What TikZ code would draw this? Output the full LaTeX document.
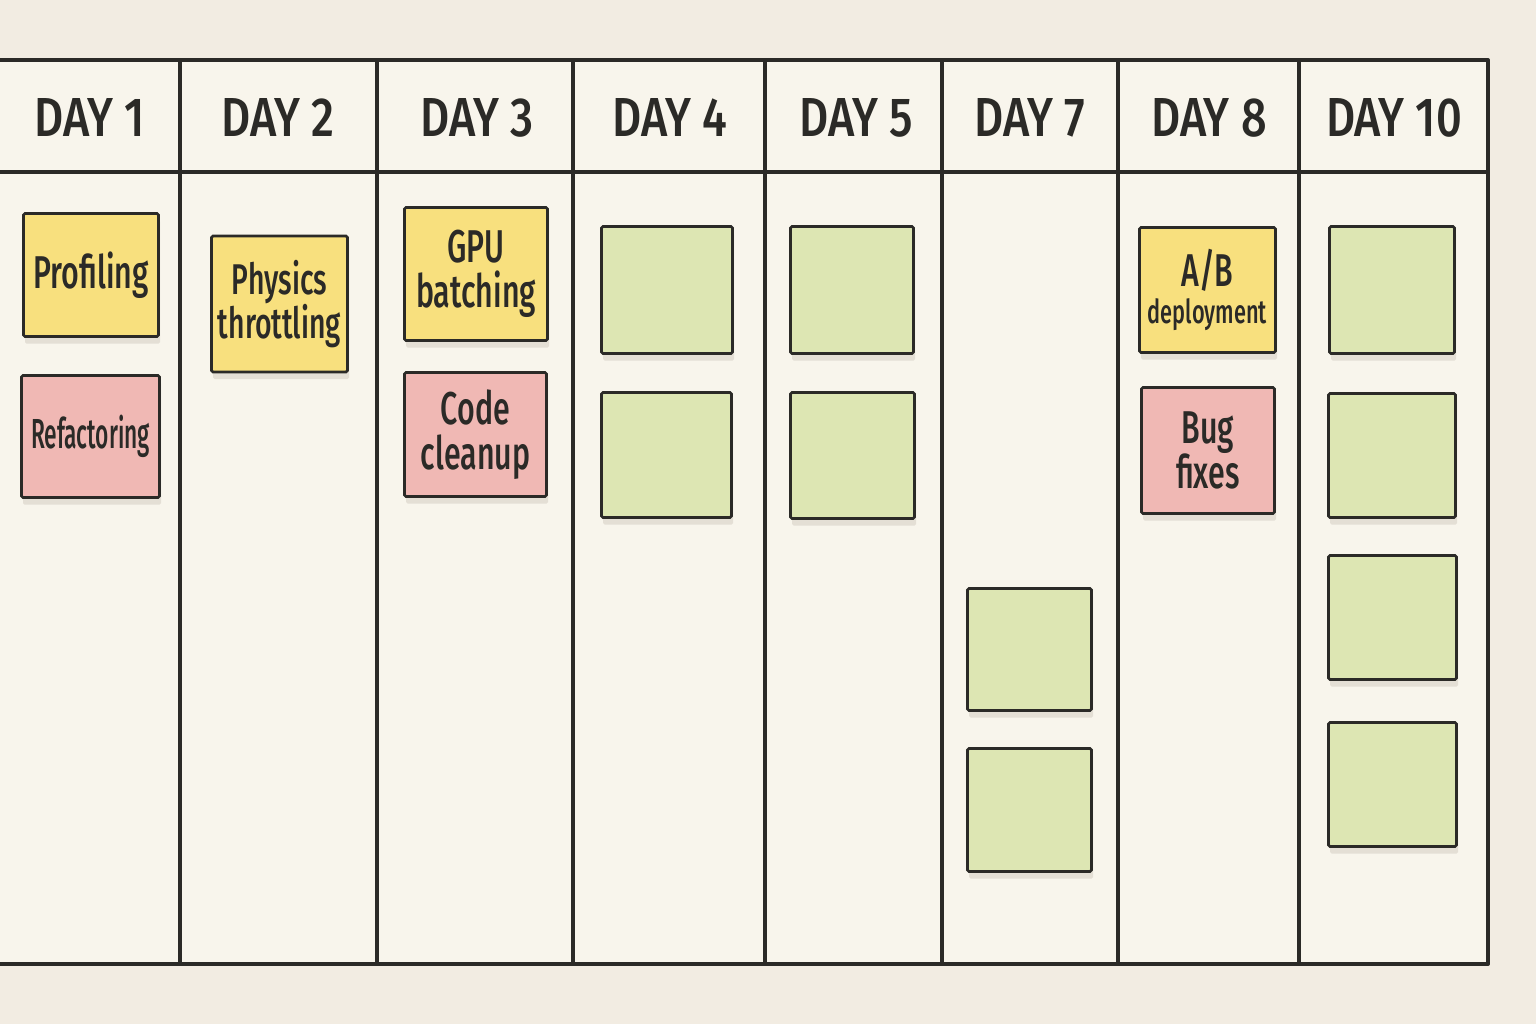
\documentclass[tikz,border=0pt]{standalone}
\usepackage{fontspec}
\usepackage{graphicx}
\usetikzlibrary{shadows}
\newfontfamily\hdrfont[FakeStretch=0.82]{Fira Sans Medium}
\newfontfamily\notefont[FakeStretch=0.66]{Fira Sans Medium}
\definecolor{bgout}{HTML}{F2ECE2}
\definecolor{board}{HTML}{F8F5EC}
\definecolor{ink}{HTML}{2B2A27}
\definecolor{ynote}{HTML}{F8E07E}
\definecolor{pnote}{HTML}{F0B8B4}
\definecolor{gnote}{HTML}{DDE6B3}
\definecolor{shade}{HTML}{E4DFD5}
\tikzset{
  gridline/.style={draw=ink, line width=3.8pt, line cap=round, line join=round},
  hdr/.style={anchor=base, text=ink, inner sep=0pt, font=\hdrfont\fontsize{55}{60}\selectfont},
  note/.style={draw=ink, line width=2.6pt, rounded corners=1.5pt, inner sep=0pt, align=center, text=ink,
    font=\notefont\fontsize{46}{45}\selectfont,
    drop shadow={shadow xshift=1.5pt, shadow yshift=-7pt, fill=shade, opacity=1}},
  ynote/.style={note, fill=ynote},
  pnote/.style={note, fill=pnote},
  gnote/.style={note, fill=gnote},
}
\begin{document}
\begin{tikzpicture}[x=1pt, y=-1pt]
\useasboundingbox (0,0) rectangle (1536,1024);
\fill[bgout] (0,0) rectangle (1536,1024);
% board
\fill[board] (-10,60) rectangle (1488,964);
\draw[gridline] (-10,60) -- (1488,60) -- (1488,964) -- (-10,964);
\draw[gridline] (-10,172) -- (1488,172);
\foreach \xx in {180,377,573,765,942,1118,1299}
  \draw[gridline] (\xx,60) -- (\xx,964);
% headers
\node[hdr] (h1) at (90,137) {DAY 1};
\node[hdr] (h2) at (278,137) {DAY 2};
\node[hdr] (h3) at (477,137) {DAY 3};
\node[hdr] (h4) at (670,137) {DAY 4};
\node[hdr] (h5) at (856,137) {DAY 5};
\node[hdr] (h7) at (1030,137) {DAY 7};
\node[hdr] (h8) at (1209,137) {DAY 8};
\node[hdr] (h10) at (1394,137) {DAY 10};
% day 1
\node[ynote, minimum width=135pt, minimum height=123pt] (prof) at (91,275) {Profiling};
\node[pnote, minimum width=138pt, minimum height=122pt] (refac) at (90.5,436.5) {\fontsize{42}{45}\selectfont\scalebox{0.82}[1]{Refactoring}};
% day 2
\node[ynote, minimum width=136pt, minimum height=136pt, font=\notefont\fontsize{43}{40}\selectfont] (phys) at (279.5,304) {Physics\\throttling};
% day 3
\node[ynote, minimum width=143pt, minimum height=133pt] (gpu) at (476,274) {GPU\\batching};
\node[pnote, minimum width=142pt, minimum height=124pt] (code) at (475.5,434.5) {Code\\cleanup};
% day 4
\node[gnote, minimum width=131pt, minimum height=127pt] (d4a) at (667,290) {};
\node[gnote, minimum width=130pt, minimum height=125pt] (d4b) at (666.5,455) {};
% day 5
\node[gnote, minimum width=123pt, minimum height=127pt] (d5a) at (852,290) {};
\node[gnote, minimum width=124pt, minimum height=126pt] (d5b) at (852.5,455.5) {};
% day 7
\node[gnote, minimum width=124pt, minimum height=122pt] (d7a) at (1029.5,649.5) {};
\node[gnote, minimum width=124pt, minimum height=123pt] (d7b) at (1029.5,810) {};
% day 8
\node[ynote, minimum width=136pt, minimum height=125pt] (ab) at (1207.5,290) {A/B\\[-8pt]{\fontsize{33}{36}\selectfont deployment}};
\node[pnote, minimum width=133pt, minimum height=126pt] (bug) at (1208,450.5) {Bug\\fixes};
% day 10
\node[gnote, minimum width=125pt, minimum height=127pt] (d10a) at (1392,290) {};
\node[gnote, minimum width=127pt, minimum height=124pt] (d10b) at (1392,455.5) {};
\node[gnote, minimum width=128pt, minimum height=124pt] (d10c) at (1392.5,617.5) {};
\node[gnote, minimum width=128pt, minimum height=124pt] (d10d) at (1392.5,784.5) {};
\end{tikzpicture}
\end{document}
